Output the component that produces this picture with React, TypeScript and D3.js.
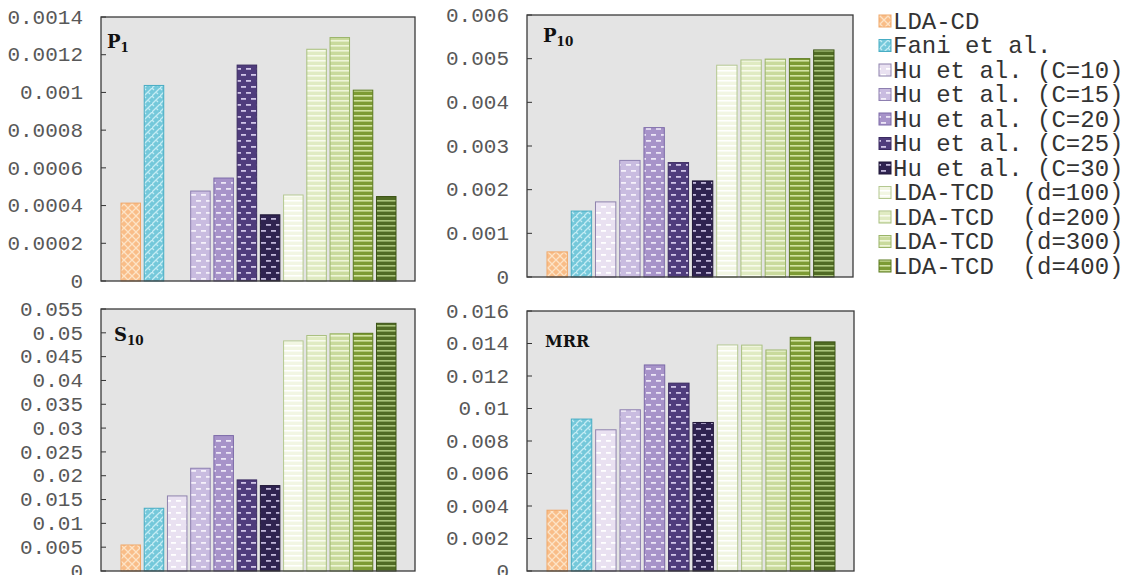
import React from "react";
import * as d3 from "d3";

// ---------- data ----------
const seriesNames = [
  "LDA-CD",
  "Fani et al.",
  "Hu et al. (C=10)",
  "Hu et al. (C=15)",
  "Hu et al. (C=20)",
  "Hu et al. (C=25)",
  "Hu et al. (C=30)",
  "LDA-TCD  (d=100)",
  "LDA-TCD  (d=200)",
  "LDA-TCD  (d=300)",
  "LDA-TCD  (d=400)",
  "LDA-TCD  (d=500)",
];
const legendCount = 11;

const p1Values = [0.000413, 0.001037, 0, 0.000477, 0.000546, 0.001145, 0.000351, 0.000456, 0.001229, 0.001291, 0.001012, 0.000448];
const p10Values = [0.000575, 0.00151, 0.00172, 0.00267, 0.00342, 0.00262, 0.0022, 0.00485, 0.00497, 0.00499, 0.005, 0.0052];
const s10Values = [0.00546, 0.01317, 0.01576, 0.02157, 0.02843, 0.01912, 0.01793, 0.0483, 0.04944, 0.0498, 0.0499, 0.052];
const mrrValues = [0.00374, 0.00935, 0.00869, 0.00992, 0.01268, 0.01156, 0.00914, 0.01391, 0.0139, 0.0136, 0.01438, 0.0141];

const p1Ticks = [0, 0.0002, 0.0004, 0.0006, 0.0008, 0.001, 0.0012, 0.0014];
const p10Ticks = [0, 0.001, 0.002, 0.003, 0.004, 0.005, 0.006];
const s10Ticks = [0, 0.005, 0.01, 0.015, 0.02, 0.025, 0.03, 0.035, 0.04, 0.045, 0.05, 0.055];
const mrrTicks = [0, 0.002, 0.004, 0.006, 0.008, 0.01, 0.012, 0.014, 0.016];
const p1TickLabels = ["0", "0.0002", "0.0004", "0.0006", "0.0008", "0.001", "0.0012", "0.0014"];
const p10TickLabels = ["0", "0.001", "0.002", "0.003", "0.004", "0.005", "0.006"];
const s10TickLabels = ["0", "0.005", "0.01", "0.015", "0.02", "0.025", "0.03", "0.035", "0.04", "0.045", "0.05", "0.055"];
const mrrTickLabels = ["0", "0.002", "0.004", "0.006", "0.008", "0.01", "0.012", "0.014", "0.016"];

// ---------- styles ----------
const fills = ["#f9bd88", "#74c8da", "#e9e1f1", "#c9bce0", "#a793c9", "#4f3c7c", "#2f2350", "#f2f6e3", "#e0ebc2", "#c9da9c", "#7d9b34", "#506b24"];
const strokes = ["#f0a768", "#48adc4", "#8e82ad", "#8d7fb0", "#7c6aa8", "#3a2a60", "#1f1636", "#b4c890", "#a9c080", "#9ab468", "#5b7a1e", "#3c5416"];
const inks = ["#fde3c6", "#c4ecf4", "#ffffff", "#f4f0fa", "#ece6f6", "#cfc4e6", "#c0b6d8", "#ffffff", "#f8fbec", "#eef5d8", "#d2e3a2", "#aac47c"];
const kinds = ["cross", "weave", "dash", "dash", "dash", "dash", "dash", "stripe", "stripe", "stripe", "stripe", "stripe"];

const W = 1138;
const H = 575;
const MONO = "'Courier New', 'Liberation Mono', monospace";

type PanelDef = {
  values: number[];
  ticks: number[];
  labels: string[];
  title: string;
  sub: string;
  x0: number; x1: number; y0: number; y1: number;
  tx: number; ty: number;
};

const panels: PanelDef[] = [
  { values: p1Values, ticks: p1Ticks, labels: p1TickLabels, title: "P", sub: "1", x0: 101, x1: 415, y0: 17, y1: 281, tx: 107, ty: 48 },
  { values: p10Values, ticks: p10Ticks, labels: p10TickLabels, title: "P", sub: "10", x0: 527, x1: 853, y0: 15, y1: 277, tx: 543, ty: 42 },
  { values: s10Values, ticks: s10Ticks, labels: s10TickLabels, title: "S", sub: "10", x0: 101, x1: 415, y0: 309, y1: 571, tx: 114, ty: 341 },
  { values: mrrValues, ticks: mrrTicks, labels: mrrTickLabels, title: "MRR", sub: "", x0: 527, x1: 854, y0: 311, y1: 571, tx: 545, ty: 347 },
];

function Pattern({ i }: { i: number }) {
  const k = kinds[i];
  const id = `pat-${i}`;
  if (k === "cross") {
    return (
      <pattern id={id} patternUnits="userSpaceOnUse" width={8} height={8}>
        <rect width={8} height={8} fill={fills[i]} />
        <path d="M0,0 L8,8 M8,0 L0,8" stroke={inks[i]} strokeWidth={1.3} />
      </pattern>
    );
  }
  if (k === "weave") {
    return (
      <pattern id={id} patternUnits="userSpaceOnUse" width={8} height={8}>
        <rect width={8} height={8} fill={fills[i]} />
        <path d="M-1,9 L9,-1 M0,0 L2,2 M4,4 L6,6 M-1,7 L1,9 M7,-1 L9,1" stroke={inks[i]} strokeWidth={1.3} />
      </pattern>
    );
  }
  if (k === "dash") {
    return (
      <pattern id={id} patternUnits="userSpaceOnUse" width={10} height={12}>
        <rect width={10} height={12} fill={fills[i]} />
        <rect x={1} y={2} width={5} height={1.8} fill={inks[i]} />
        <rect x={6} y={8} width={5} height={1.8} fill={inks[i]} />
        <rect x={-4} y={8} width={5} height={1.8} fill={inks[i]} />
      </pattern>
    );
  }
  return (
    <pattern id={id} patternUnits="userSpaceOnUse" width={6} height={5}>
      <rect width={6} height={5} fill={fills[i]} />
      <rect x={0} y={0} width={6} height={1.6} fill={inks[i]} />
    </pattern>
  );
}

function Panel({ p }: { p: PanelDef }) {
  const idx = d3.range(seriesNames.length);
  const x = d3
    .scaleBand<number>()
    .domain(idx)
    .range([p.x0 + 20, p.x1 - 19])
    .paddingInner(0.16)
    .paddingOuter(0);
  const y = d3
    .scaleLinear()
    .domain([0, p.ticks[p.ticks.length - 1]])
    .range([p.y1, p.y0]);
  return (
    <g>
      <rect x={p.x0} y={p.y0} width={p.x1 - p.x0} height={p.y1 - p.y0} fill="#e4e4e4" />
      {p.values.map((v, i) =>
        v > 0 ? (
          <rect
            key={i}
            x={x(i)}
            y={y(v)}
            width={x.bandwidth()}
            height={y(0) - y(v)}
            fill={`url(#pat-${i})`}
            stroke={strokes[i]}
            strokeWidth={1}
          />
        ) : null
      )}
      {p.ticks.map((t, j) => (
        <g key={j}>
          <line x1={p.x0} x2={p.x0 + 5} y1={y(t)} y2={y(t)} stroke="#333" strokeWidth={1} />
          <text
            x={p.x0 - 18}
            y={y(t)}
            dy="0.32em"
            textAnchor="end"
            fontFamily={MONO}
            fontSize={21}
            fill="#585858"
          >
            {p.labels[j]}
          </text>
        </g>
      ))}
      <rect x={p.x0} y={p.y0} width={p.x1 - p.x0} height={p.y1 - p.y0} fill="none" stroke="#3a3a3a" strokeWidth={1.3} />
      <text x={p.tx} y={p.ty} fontFamily="'DejaVu Serif', serif" fontWeight="bold" fontSize={p.sub ? 18 : 16} fill="#111">
        {p.title}
        {p.sub ? (
          <tspan fontSize={12} dy={4}>
            {p.sub}
          </tspan>
        ) : null}
      </text>
    </g>
  );
}

export default function App() {
  const legendIdx = d3.range(legendCount);
  const ly = d3.scaleLinear().domain([0, legendCount - 1]).range([21, 266]);
  return (
    <svg
      width={W}
      height={H}
      style={{ position: "absolute", left: 0, top: 0, background: "#fff" }}
    >
      <defs>
        {seriesNames.map((_, i) => (
          <Pattern key={i} i={i} />
        ))}
      </defs>
      <rect width={W} height={H} fill="#fff" />
      {panels.map((p, k) => (
        <Panel key={k} p={p} />
      ))}
      {legendIdx.map((i) => (
        <g key={i}>
          <rect x={879} y={ly(i) - 6} width={12} height={12} fill={`url(#pat-${i})`} stroke={strokes[i]} strokeWidth={1} />
          <text
            x={893}
            y={ly(i)}
            dy="0.33em"
            fontFamily={MONO}
            fontSize={24}
            fill="#333"
            style={{ whiteSpace: "pre" }}
            xmlSpace="preserve"
          >
            {seriesNames[i]}
          </text>
        </g>
      ))}
    </svg>
  );
}
